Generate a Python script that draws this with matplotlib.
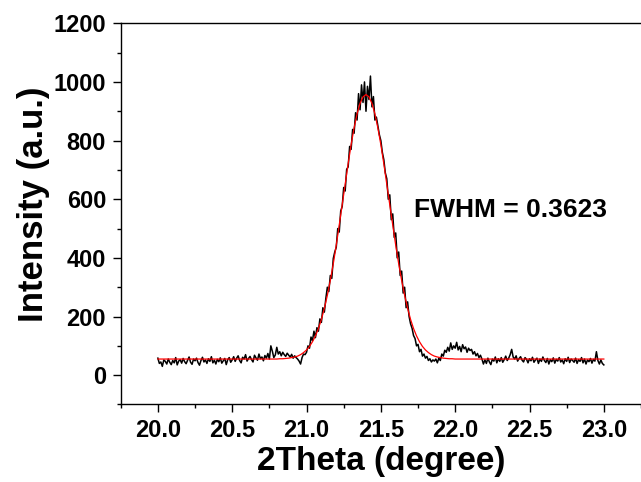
import numpy as np
import matplotlib
matplotlib.use("Agg")
import matplotlib.pyplot as plt
from matplotlib.ticker import MultipleLocator, FormatStrFormatter

# Measured scan (2Theta from 20.00 to 23.00, step 0.01)
scan_start = 20.0
scan_step = 0.01
intensity = [
    # 20.00 - 20.49
    58, 40, 45, 30, 52, 47, 38, 55, 44, 36,
    50, 42, 60, 35, 48, 53, 41, 57, 46, 39,
    51, 62, 44, 37, 55, 49, 58, 43, 34, 50,
    61, 45, 52, 40, 56, 47, 63, 42, 51, 38,
    54, 46, 59, 41, 49, 57, 36, 53, 60, 44,
    # 20.50 - 20.79
    52, 63, 47, 58, 66, 50, 42, 61, 55, 70,
    48, 57, 64, 53, 45, 68, 59, 51, 72, 56,
    62, 49, 67, 58, 74, 55, 100, 82, 60, 69,
    # 20.80 - 20.99
    95, 72, 80, 66, 78, 70, 64, 75, 68, 62,
    71, 58, 66, 60, 55, 48, 38, 60, 72, 70,
    # 21.00 - 21.39
    78, 100, 92, 130, 118, 150, 128, 162, 150, 192,
    180, 230, 215, 262, 300, 285, 340, 330, 398, 420,
    436, 500, 488, 560, 575, 640, 628, 702, 710, 780,
    770, 838, 825, 895, 870, 960, 905, 990, 930, 1000,
    # 21.40 - 22.19
    900, 985, 940, 1020, 915, 950, 870, 880, 850, 820,
    800, 760, 735, 690, 670, 600, 615, 530, 550, 470,
    485, 400, 420, 340, 355, 280, 300, 230, 250, 200,
    175, 160, 135, 125, 100, 105, 80, 88, 65, 72,
    58, 64, 50, 56, 45, 52, 48, 55, 42, 58,
    50, 72, 65, 85, 78, 95, 82, 110, 88, 100,
    92, 112, 86, 98, 80, 104, 90, 96, 78, 92,
    84, 88, 72, 80, 66, 74, 60, 68, 55, 38,
    # 22.20 - 23.00
    52, 40, 58, 45, 36, 55, 48, 62, 42, 56,
    47, 60, 44, 53, 65, 50, 58, 70, 88, 62,
    55, 66, 48, 57, 63, 51, 45, 60, 54, 42,
    56, 49, 61, 44, 52, 58, 40, 55, 47, 62,
    50, 43, 57, 38, 53, 46, 59, 41, 54, 48,
    60, 45, 52, 39, 56, 47, 61, 43, 55, 50,
    44, 58, 40, 53, 47, 60, 42, 55, 38, 52,
    46, 57, 41, 54, 48, 80, 50, 38, 52, 40,
    35,
]

# Fitted curve (2Theta from 20.00 to 23.00, step 0.02)
fit_start = 20.0
fit_step = 0.02
fit_values = (
    [55] * 40 +
    [55, 56, 56, 57, 58, 60, 62, 65, 70, 77,
     86, 98, 114, 134, 159, 190, 228, 272, 323, 380,
     443, 511, 581, 652, 721, 786, 843, 891, 927, 949,
     957, 949, 927, 891, 843, 786, 721, 652, 581, 511,
     443, 380, 323, 272, 228, 190, 159, 134, 114, 98,
     86, 77, 70, 65, 62, 60, 58, 57, 56, 56, 55] +
    [55] * 50
)

x_ticks = [20.0, 20.5, 21.0, 21.5, 22.0, 22.5, 23.0]
y_ticks = [0, 200, 400, 600, 800, 1000, 1200]
annotation = "FWHM = 0.3623"

plt.rcParams['font.family'] = ['Liberation Sans', 'DejaVu Sans']
plt.rcParams['font.weight'] = 'bold'

fig = plt.figure(figsize=(6.41, 4.82), dpi=100)
ax = fig.add_axes([0.1883, 0.1608, 0.8117, 0.7909])

x_scan = scan_start + scan_step * np.arange(len(intensity))
x_fit = fit_start + fit_step * np.arange(len(fit_values))

ax.plot(x_scan, intensity, color='black', lw=1.1)
ax.plot(x_fit, fit_values, color='red', lw=0.9)

ax.set_xlim(19.75, 23.25)
ax.set_ylim(-100, 1200)
ax.set_xticks(x_ticks)
ax.set_yticks(y_ticks)
ax.xaxis.set_minor_locator(MultipleLocator(0.25))
ax.yaxis.set_minor_locator(MultipleLocator(100))
ax.xaxis.set_major_formatter(FormatStrFormatter('%.1f'))

ax.tick_params(which='major', direction='out', length=5.5, width=1.0,
               labelsize=17, pad=5)
ax.tick_params(which='minor', direction='out', length=3, width=1.0)
ax.tick_params(top=False, right=False, which='both')
for lbl in ax.get_xticklabels() + ax.get_yticklabels():
    lbl.set_fontweight('bold')

ax.spines['right'].set_visible(False)
for s in ['left', 'bottom', 'top']:
    ax.spines[s].set_linewidth(1.0)

ax.set_xlabel('2Theta (degree)', fontsize=24, fontweight='bold', labelpad=3)
ax.set_ylabel('Intensity (a.u.)', fontsize=25, fontweight='bold')
ax.yaxis.set_label_coords(-0.136, 0.526)

ax.text(21.72, 563, annotation, fontsize=19, fontweight='bold',
        ha='left', va='center')

fig.savefig('out.png', dpi=100)
